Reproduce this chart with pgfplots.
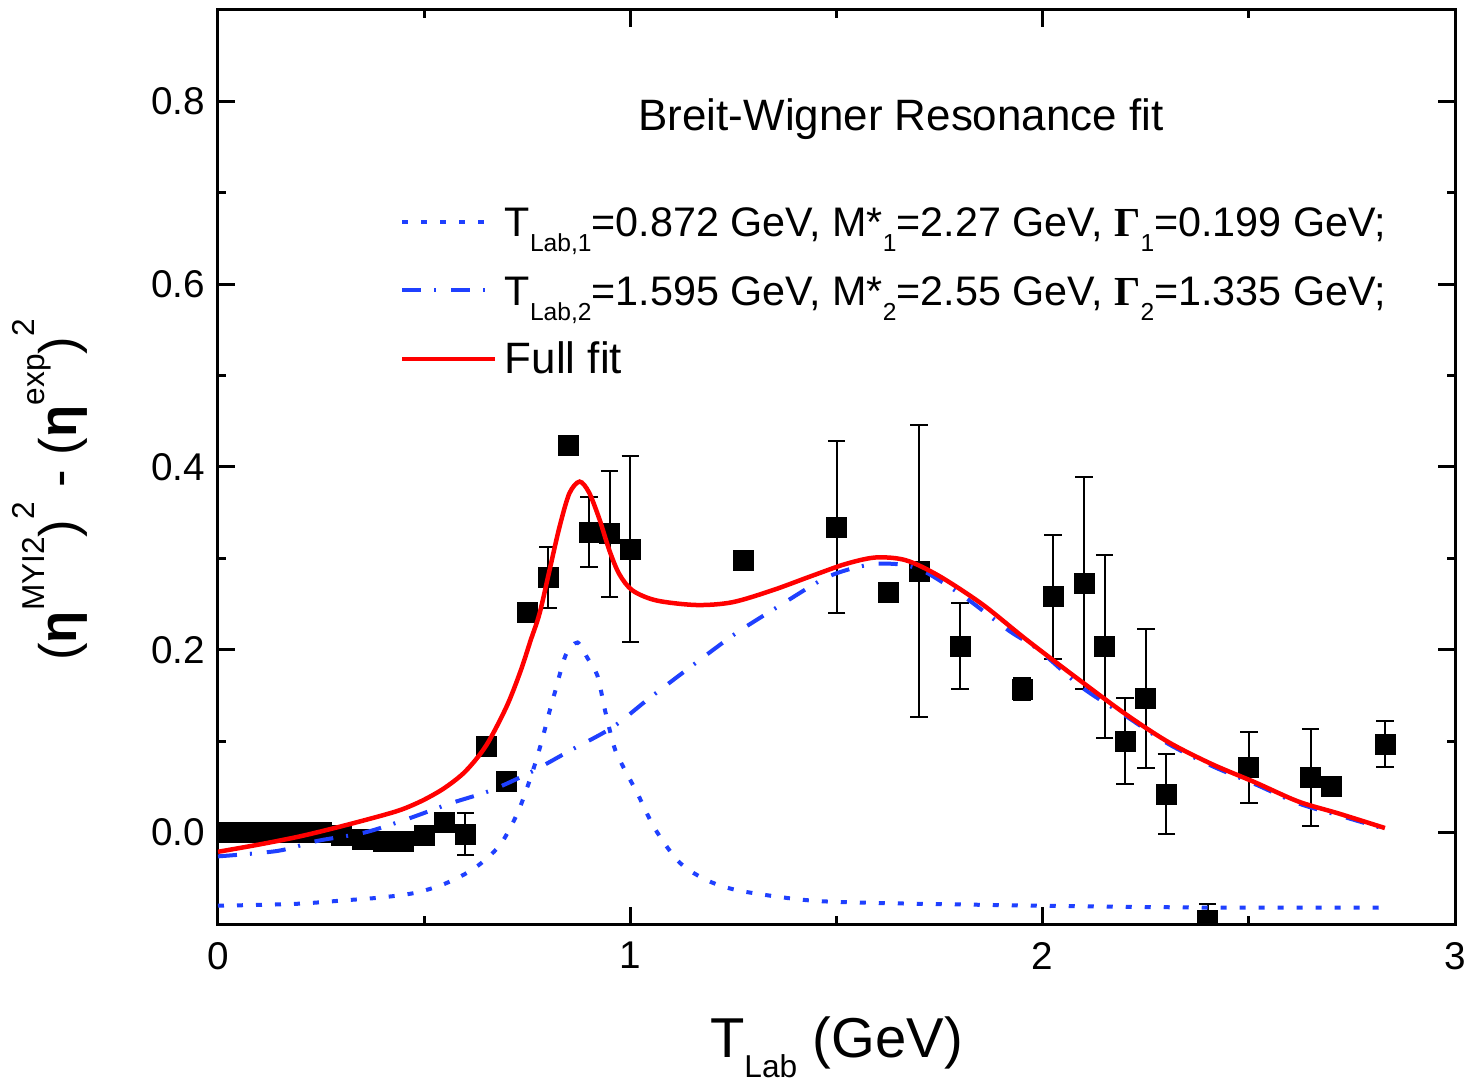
\documentclass[border=0pt]{standalone}
\usepackage{fontspec}
\setmainfont{Liberation Sans}
\newfontfamily\serifgreek{Liberation Serif}
\usepackage{pgfplots}
\usepackage{pgfplotstable}
\pgfplotsset{compat=1.18}

\definecolor{fitblue}{RGB}{31,64,255}
\definecolor{fitred}{RGB}{255,0,0}

% legend subscripts and axis-label sub/superscripts
\newcommand\lsub[1]{\raisebox{-3mm}{\fontsize{14}{14}\selectfont #1}}
\newcommand\xsub[1]{\raisebox{-4mm}{\fontsize{18}{18}\selectfont #1}}
\newcommand\ysup[1]{\raisebox{6.5mm}{\fontsize{18}{18}\selectfont #1}}
\newcommand\ysupp[1]{\raisebox{8.5mm}{\fontsize{18}{18}\selectfont #1}}
\newcommand\BGamma{{\serifgreek\bfseries Γ}}
\newcommand\entryfont{\fontsize{23.5}{28}\selectfont}

% measured points: T_Lab, value, error
\pgfplotstableread{
x      y       ey
0.025  0.000   0
0.050  0.000   0
0.075  0.000   0
0.100  0.000   0
0.150  0.000   0
0.200  0.000   0
0.250  0.000   0
0.300 -0.003   0
0.350 -0.007   0
0.400 -0.010   0
0.450 -0.010   0
0.500 -0.003   0
0.550  0.011   0
0.600 -0.002   0.023
0.650  0.094   0
0.700  0.056   0
0.750  0.241   0
0.800  0.279   0.033
0.850  0.424   0
0.900  0.329   0.038
0.950  0.327   0.069
1.000  0.310   0.102
1.275  0.298   0
1.500  0.334   0.094
1.625  0.263   0
1.700  0.286   0.160
1.800  0.204   0.047
1.950  0.157   0.012
2.025  0.258   0.068
2.100  0.273   0.116
2.150  0.204   0.100
2.200  0.100   0.047
2.250  0.147   0.076
2.300  0.042   0.044
2.400 -0.096   0.018
2.500  0.071   0.039
2.650  0.060   0.053
2.700  0.051   0
2.830  0.097   0.025
}\expdata

% first resonance
\pgfplotstableread{
x      y
0.000 -0.080
0.186 -0.078
0.310 -0.074
0.395 -0.071
0.477 -0.066
0.550 -0.056
0.622 -0.039
0.683 -0.014
0.726  0.021
0.758  0.060
0.782  0.095
0.806  0.136
0.818  0.155
0.830  0.175
0.843  0.194
0.858  0.204
0.872  0.208
0.884  0.201
0.896  0.191
0.920  0.172
0.939  0.133
0.960  0.095
0.977  0.077
1.017  0.043
1.060  0.004
1.120 -0.033
1.190 -0.053
1.270 -0.064
1.430 -0.074
1.600 -0.077
2.000 -0.080
2.400 -0.082
2.830 -0.082
}\bwone

% second resonance
\pgfplotstableread{
x      y
0.000 -0.026
0.145 -0.020
0.242 -0.009
0.355  0.000
0.460  0.015
0.564  0.032
0.661  0.046
0.758  0.066
0.855  0.090
0.956  0.115
1.046  0.147
1.151  0.183
1.256  0.218
1.361  0.248
1.466  0.277
1.530  0.288
1.595  0.294
1.660  0.293
1.716  0.285
1.813  0.257
1.918  0.221
1.990  0.200
2.095  0.159
2.200  0.128
2.305  0.097
2.410  0.073
2.515  0.053
2.620  0.032
2.717  0.019
2.830  0.004
}\bwtwo

% sum of both resonances
\pgfplotstableread{
x      y
0.000 -0.021
0.100 -0.013
0.200 -0.004
0.300  0.007
0.400  0.019
0.450  0.026
0.500  0.036
0.550  0.049
0.600  0.067
0.650  0.095
0.700  0.138
0.734  0.177
0.758  0.210
0.780  0.240
0.804  0.287
0.828  0.334
0.852  0.371
0.877  0.384
0.900  0.372
0.925  0.343
0.949  0.309
0.973  0.283
1.005  0.265
1.063  0.254
1.160  0.249
1.247  0.252
1.344  0.265
1.441  0.281
1.523  0.294
1.595  0.301
1.668  0.298
1.748  0.281
1.853  0.250
1.958  0.212
2.080  0.170
2.200  0.130
2.305  0.099
2.410  0.075
2.515  0.055
2.620  0.034
2.717  0.021
2.830  0.005
}\fullfit

\begin{document}
\begin{tikzpicture}
\begin{axis}[
  at={(0,0)}, anchor=south west,
  scale only axis, width=247.4mm, height=182.8mm,
  xmin=0, xmax=3, ymin=-0.1, ymax=0.9,
  xtick={0,1,2,3}, ytick={0,0.2,0.4,0.6,0.8},
  minor x tick num=1, minor y tick num=1,
  tick align=inside,
  major tick length=3.4mm, minor tick length=1.7mm,
  every tick/.style={black, line width=0.6mm},
  axis line style={line width=0.6mm},
  tick label style={font=\fontsize{22}{26}\selectfont},
  /pgf/number format/assume math mode=true,
  y tick label style={/pgf/number format/fixed,
    /pgf/number format/fixed zerofill,
    /pgf/number format/precision=1, xshift=-1.4mm},
  x tick label style={yshift=-2.4mm},
  clip marker paths=true,
  xlabel={T\xsub{Lab} (GeV)},
  every axis x label/.style={at={(rel axis cs:0.5,0)}, anchor=base,
    yshift=-26.6mm, font=\fontsize{32}{38}\selectfont},
  ylabel={(\textbf{η}\ysup{MYI2})\ysupp{2} - (\textbf{η}\ysup{exp})\ysupp{2}},
  every axis y label/.style={at={(rel axis cs:0,0.475)}, anchor=center,
    rotate=90, yshift=33.6mm, font=\fontsize{30}{36}\selectfont},
  legend style={at={(0.147,0.801)}, anchor=north west, draw=none, fill=none,
    inner sep=0pt, outer sep=0pt, row sep=1.7mm, column sep=1.6mm,
    font=\fontsize{25}{30}\selectfont,
    nodes={inner sep=0pt, text height=9mm, text depth=3mm}},
  legend cell align=left,
  legend image code/.code={\draw[#1] (0mm,0mm) -- (18.5mm,0mm);},
]
\addplot[only marks, mark=square*, mark size=2mm, black, forget plot,
  error bars/.cd, y dir=both, y explicit,
  error bar style={line width=0.4mm, black},
  error mark options={rotate=90, black, mark size=1.75mm, line width=0.4mm}]
  table[x=x, y=y, y error=ey] {\expdata};

\addplot[fitblue, line width=0.8mm, smooth, dash pattern=on 1.2mm off 2.6mm]
  table[x=x, y=y] {\bwone};
\addlegendentry{\entryfont T\lsub{Lab,1}=0.872 GeV, M*\lsub{1}=2.27 GeV, \BGamma\lsub{1}=0.199 GeV;}

\addplot[fitblue, line width=0.8mm, smooth,
  dash pattern=on 3.8mm off 2.6mm on 0.4mm off 3mm]
  table[x=x, y=y] {\bwtwo};
\addlegendentry{\entryfont T\lsub{Lab,2}=1.595 GeV, M*\lsub{2}=2.55 GeV, \BGamma\lsub{2}=1.335 GeV;}

\addplot[fitred, line width=0.9mm, smooth] table[x=x, y=y] {\fullfit};
\addlegendentry{Full fit}

\node[anchor=base west, font=\fontsize{25}{30}\selectfont]
  at (axis cs:1.005,0.768) {Breit-Wigner Resonance fit};
\end{axis}
\pgfresetboundingbox
\path[use as bounding box] (-43.6mm,-32.6mm) rectangle (251.2mm,184.8mm);
\end{tikzpicture}
\end{document}
